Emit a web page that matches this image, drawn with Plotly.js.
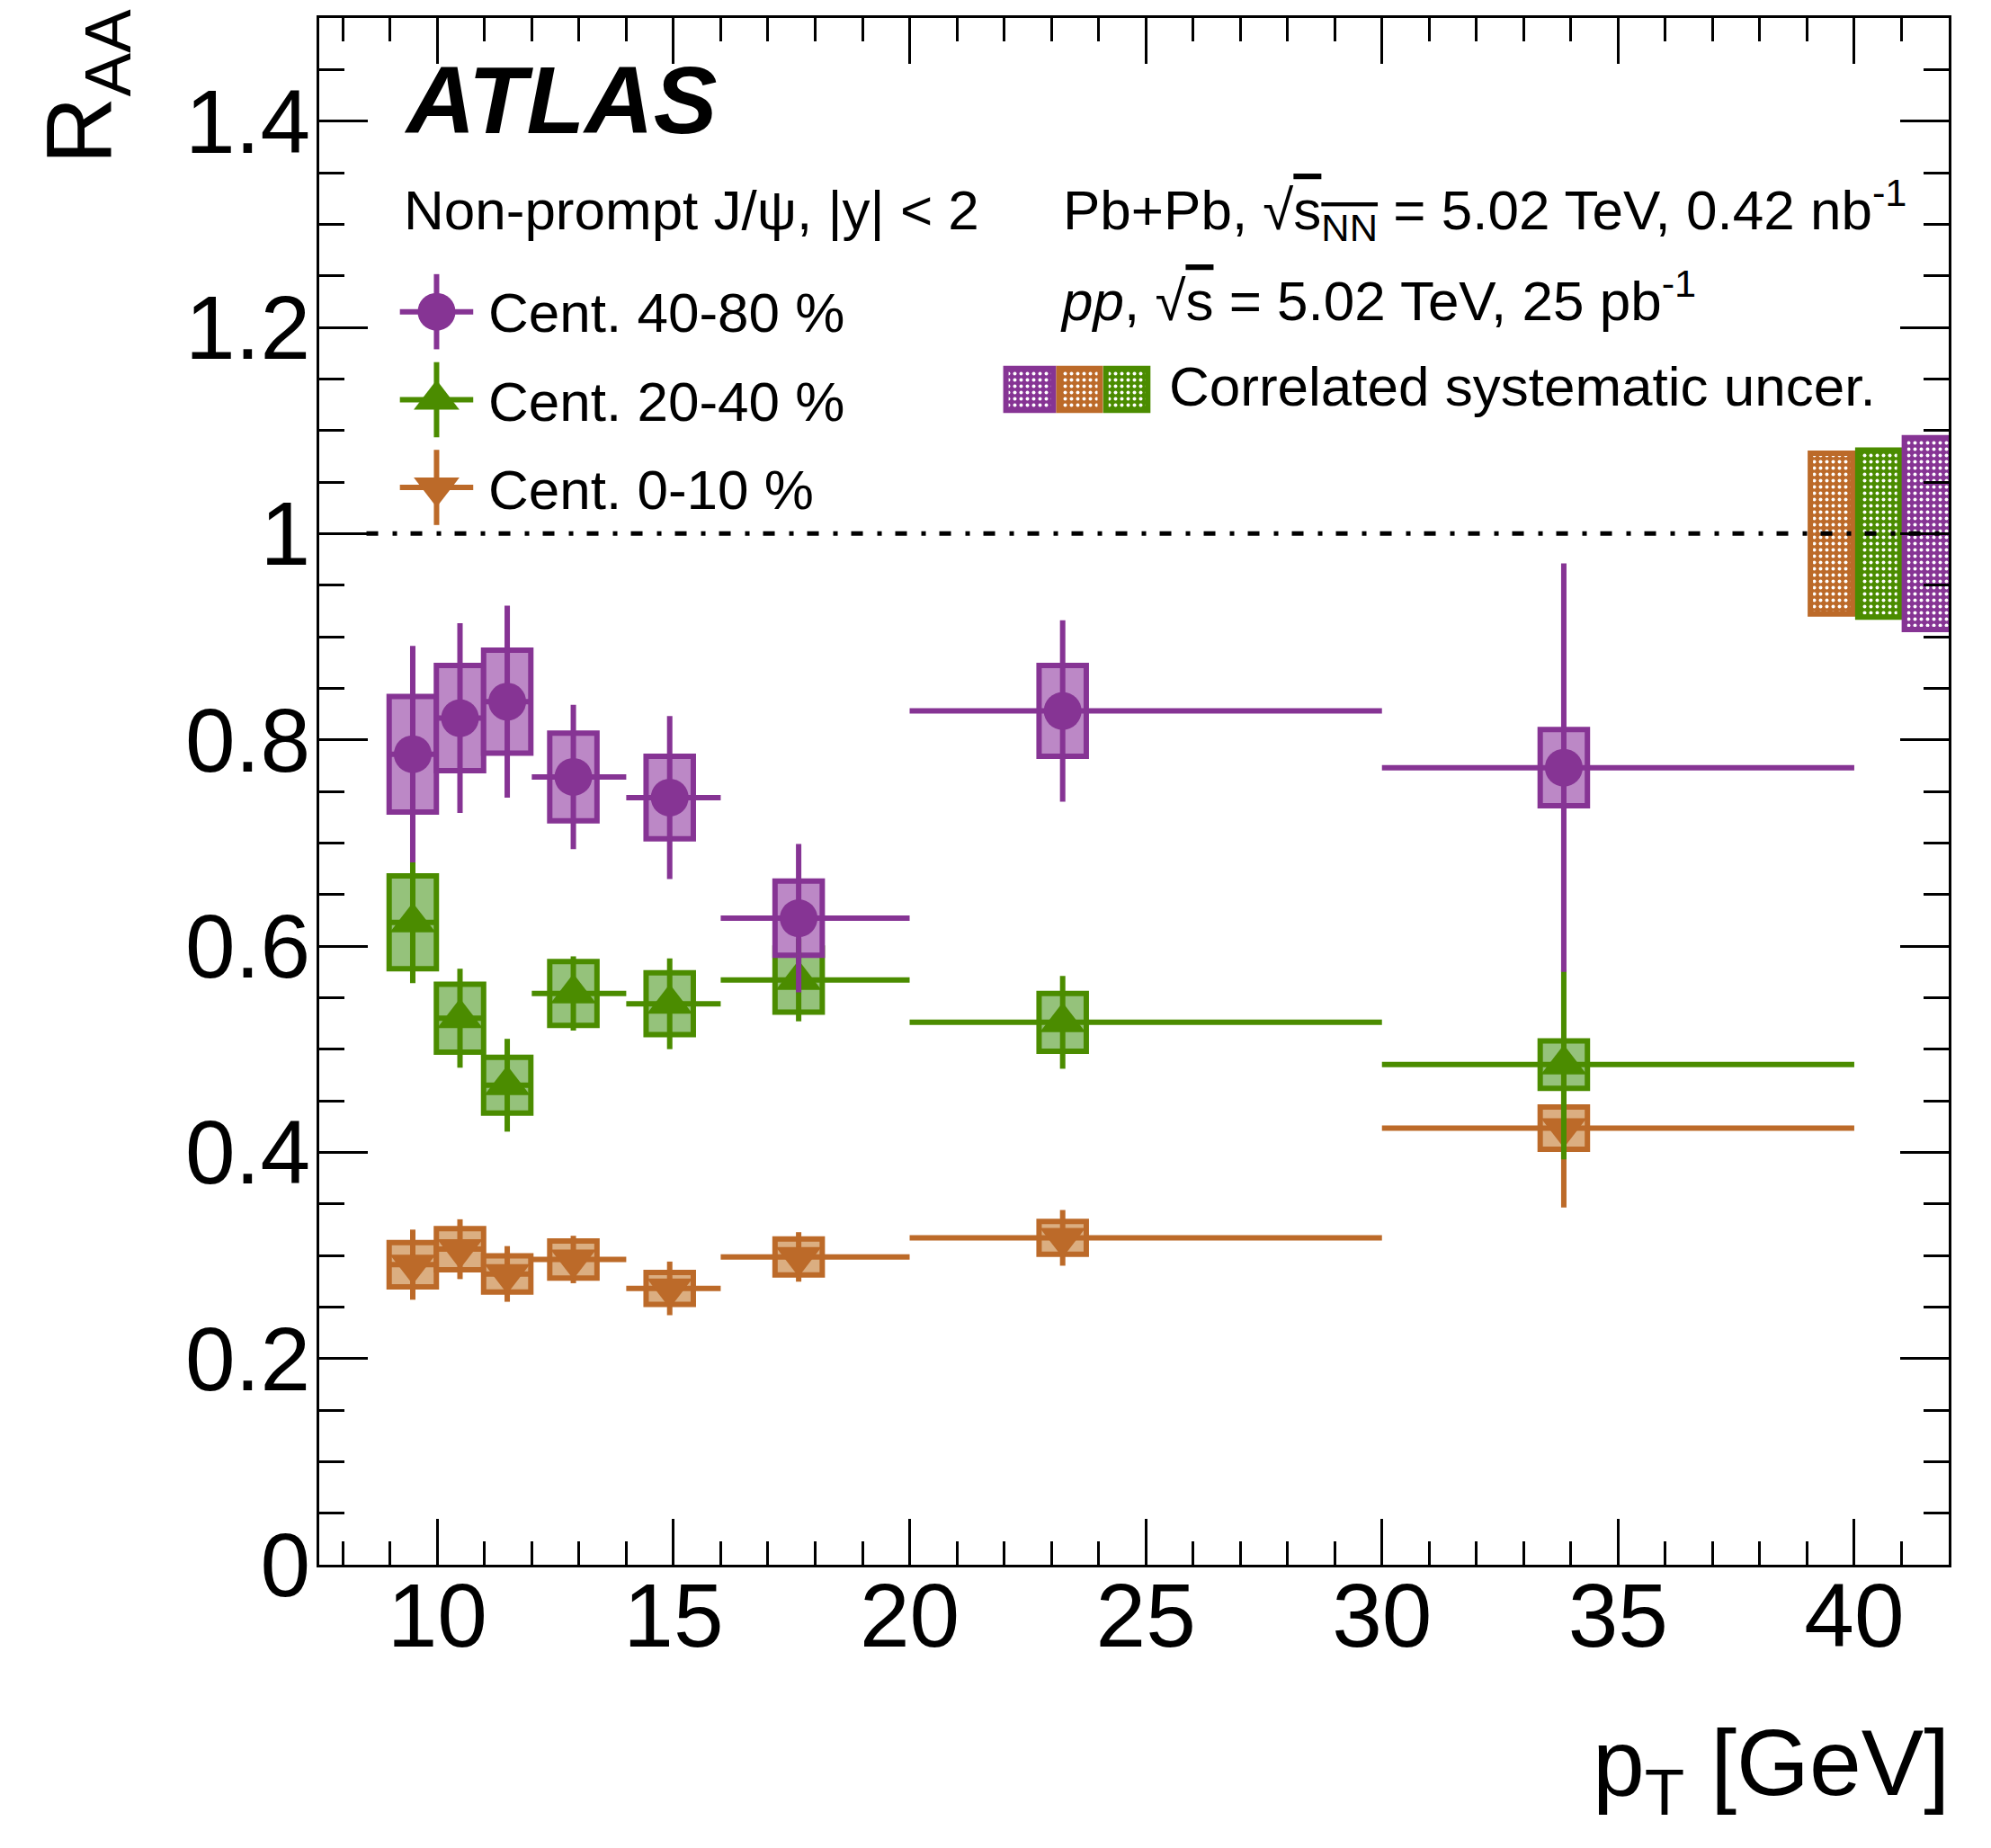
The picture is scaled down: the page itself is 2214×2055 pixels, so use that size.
<!DOCTYPE html>
<html>
<head>
<meta charset="utf-8">
<script src="https://cdn.plot.ly/plotly-3.0.1.min.js"></script>
<style>html,body{margin:0;padding:0;background:#fff;}</style>
</head>
<body>
<div id="chart" style="width:2214px;height:2055px;"></div>
<script>
// ---------------- data ----------------
const PT     = [9.48, 10.48, 11.48, 12.88, 14.92, 17.65, 23.24, 33.85];
const BIN_LO = [9, 10, 11, 12, 14, 16, 20, 30];
const BIN_HI = [10, 11, 12, 14, 16, 20, 30, 40];

const RAA_4080  = [0.786, 0.821, 0.837, 0.764, 0.744, 0.627, 0.828, 0.773];
const STAT_4080 = [0.105, 0.092, 0.093, 0.070, 0.079, 0.072, 0.088, 0.198];
const SYS_4080  = [0.056, 0.051, 0.050, 0.0425, 0.040, 0.036, 0.044, 0.037];

const RAA_2040  = [0.623, 0.530, 0.465, 0.554, 0.544, 0.567, 0.526, 0.485];
const STAT_2040 = [0.059, 0.048, 0.045, 0.036, 0.044, 0.040, 0.045, 0.092];
const SYS_2040  = [0.045, 0.033, 0.027, 0.031, 0.030, 0.031, 0.028, 0.023];

const RAA_010   = [0.291, 0.306, 0.282, 0.296, 0.268, 0.2985, 0.317, 0.4235];
const STAT_010  = [0.034, 0.029, 0.027, 0.023, 0.026, 0.024, 0.027, 0.077];
const SYS_010   = [0.0215, 0.020, 0.0175, 0.018, 0.0155, 0.0175, 0.016, 0.0205];

// correlated (global) uncertainties, order: 0-10, 20-40, 40-80
const CORR_LABELS = ['Cent. 0-10 %', 'Cent. 20-40 %', 'Cent. 40-80 %'];
const CORR_UNC    = [0.078, 0.081, 0.093];
const UNITY = 1;

const SERIES_LABELS = ['Cent. 40-80 %', 'Cent. 20-40 %', 'Cent. 0-10 %'];
const X_TICKS = [10, 15, 20, 25, 30, 35, 40];
const Y_TICKS = [0, 0.2, 0.4, 0.6, 0.8, 1, 1.2, 1.4];

// ---------------- style ----------------
const FONT = 'Liberation Sans, Arial, Helvetica, sans-serif';
const C = {
  purple: '#863494', purpleL: '#bc88c6',
  green:  '#4b8c00', greenL:  '#95c27b',
  orange: '#bc6a29', orangeL: '#dbae81'
};
const SYS_W = 1.0;          // box width in GeV
const LW = 6;               // line width
const CORR_X = [39.52, 40.52, 41.56];
const CORR_W = [0.90, 0.89, 1.0];
const CORR_COL = [C.orange, C.green, C.purple];
const TXT = 62;

function sysBars(vals, sys, dark, light) {
  return {
    type: 'bar', x: PT,
    y: sys.map(s => 2 * s),
    base: vals.map((v, i) => v - sys[i]),
    width: PT.map(() => SYS_W),
    marker: {color: light, line: {color: dark, width: LW}},
    hoverinfo: 'skip', showlegend: false
  };
}
function points(vals, stat, col, sym, size) {
  return {
    type: 'scatter', mode: 'markers', x: PT, y: vals,
    marker: {color: col, symbol: sym, size: size, line: {width: 0}},
    error_y: {type: 'data', array: stat, symmetric: true, color: col, thickness: LW, width: 0},
    error_x: {type: 'data', array: PT.map((p, i) => BIN_HI[i] - p),
              arrayminus: PT.map((p, i) => p - BIN_LO[i]), symmetric: false,
              color: col, thickness: LW, width: 0},
    cliponaxis: false, showlegend: false, hoverinfo: 'skip'
  };
}
function corrBar(i) {
  return {
    type: 'bar', x: [CORR_X[i]], y: [2 * CORR_UNC[i]], base: [UNITY - CORR_UNC[i]],
    width: [CORR_W[i]], name: CORR_LABELS[i],
    marker: {color: CORR_COL[i], line: {color: CORR_COL[i], width: LW},
             pattern: {shape: '.', bgcolor: CORR_COL[i], fgcolor: '#ffffff', size: 7, solidity: 0.25}},
    hoverinfo: 'skip', showlegend: false
  };
}

const traces = [
  sysBars(RAA_010,  SYS_010,  C.orange, C.orangeL),
  sysBars(RAA_2040, SYS_2040, C.green,  C.greenL),
  sysBars(RAA_4080, SYS_4080, C.purple, C.purpleL),
  corrBar(0), corrBar(1), corrBar(2),
  points(RAA_010,  STAT_010,  C.orange, 'triangle-down', 44),
  points(RAA_2040, STAT_2040, C.green,  'triangle-up',   44),
  points(RAA_4080, STAT_4080, C.purple, 'circle',        42)
];

// ---------------- legend (drawn on an overlay axis in paper-like units) ----------------
const LEG_X = 0.0720;
const LEG_Y = [0.8101, 0.7532, 0.6965];
const LEG_COL = [C.purple, C.green, C.orange];
const LEG_SYM = ['circle', 'triangle-up', 'triangle-down'];
const LEG_SIZE = [42, 44, 44];
for (let i = 0; i < 3; i++) {
  traces.push({
    type: 'scatter', mode: 'markers', x: [LEG_X], y: [LEG_Y[i]], xaxis: 'x2', yaxis: 'y2',
    marker: {color: LEG_COL[i], symbol: LEG_SYM[i], size: LEG_SIZE[i]},
    error_x: {type: 'constant', value: 0.0225, color: LEG_COL[i], thickness: LW, width: 0},
    error_y: {type: 'constant', value: 0.0243, color: LEG_COL[i], thickness: LW, width: 0},
    showlegend: false, hoverinfo: 'skip', cliponaxis: false
  });
}
// correlated-uncertainty swatches: purple, orange, green
const SW_X = [0.4360, 0.4666, 0.4956];
const SW_W = [0.0292, 0.0254, 0.0257];
const SW_COL = [C.purple, C.orange, C.green];
for (let i = 0; i < 3; i++) {
  traces.push({
    type: 'bar', x: [SW_X[i]], y: [0.0271], base: [0.7463], width: [SW_W[i]],
    xaxis: 'x2', yaxis: 'y2',
    marker: {color: SW_COL[i], line: {color: SW_COL[i], width: LW},
             pattern: {shape: '.', bgcolor: SW_COL[i], fgcolor: '#ffffff', size: 7, solidity: 0.25}},
    showlegend: false, hoverinfo: 'skip'
  });
}

function ann(text, x, y, size, extra) {
  return Object.assign({
    text: text, x: x, y: y, xref: 'paper', yref: 'paper',
    xanchor: 'left', yanchor: 'middle', showarrow: false,
    font: {family: FONT, size: size, color: '#000'}
  }, extra || {});
}

const annotations = [
  ann('<b><i>ATLAS</i></b>', 0.0508, 0.9471, 106),
  ann('Non-prompt J/ψ, |y| &lt; 2', 0.0508, 0.8758, TXT),
  ann(SERIES_LABELS[0], 0.1026, 0.8095, TXT),
  ann(SERIES_LABELS[1], 0.1026, 0.7521, TXT),
  ann(SERIES_LABELS[2], 0.1026, 0.6953, TXT),
  ann('Pb+Pb, √<span style="text-decoration:overline">s<sub>NN</sub></span> = 5.02 TeV, 0.42 nb<sup>-1</sup>', 0.4553, 0.8759, TXT),
  ann('<i>pp</i>, √<span style="text-decoration:overline">s</span> = 5.02 TeV, 25 pb<sup>-1</sup>', 0.4536, 0.8200, TXT),
  ann('Correlated systematic uncer.', 0.5204, 0.7622, TXT),
  ann('p<sub>T</sub> [GeV]', 1.0017, -0.1323, 104, {xanchor: 'right'}),
  ann('R<sub>AA</sub>', -0.1437, 0.9558, 104, {xanchor: 'center', textangle: -90})
];

const tickCommon = {
  ticks: 'inside', tickwidth: 3, tickcolor: '#000',
  showline: true, linewidth: 3, linecolor: '#000', mirror: 'allticks',
  showgrid: false, zeroline: false,
  tickfont: {family: FONT, size: 100, color: '#000'}
};

const layout = {
  width: 2214, height: 2055,
  margin: {l: 355, r: 47, t: 20, b: 315, pad: 0},
  paper_bgcolor: '#fff', plot_bgcolor: '#fff',
  font: {family: FONT, color: '#000'},
  barmode: 'overlay', showlegend: false,
  xaxis: Object.assign({}, tickCommon, {
    range: [7.5, 42], tickmode: 'array', tickvals: X_TICKS, ticktext: X_TICKS.map(String),
    ticklen: 51, ticklabelstandoff: -32,
    minor: {ticks: 'inside', ticklen: 26, tickwidth: 3, tickcolor: '#000', dtick: 1, tick0: 0, showgrid: false}
  }),
  yaxis: Object.assign({}, tickCommon, {
    range: [0, 1.5], tickmode: 'array', tickvals: Y_TICKS, ticktext: Y_TICKS.map(String),
    ticklen: 54, ticklabelstandoff: -13,
    minor: {ticks: 'inside', ticklen: 28, tickwidth: 3, tickcolor: '#000', dtick: 0.05, tick0: 0, showgrid: false}
  }),
  xaxis2: {overlaying: 'x', anchor: 'y2', range: [0, 1], visible: false, fixedrange: true},
  yaxis2: {overlaying: 'y', anchor: 'x2', range: [0, 1], visible: false, fixedrange: true},
  shapes: [{
    type: 'line', xref: 'x', yref: 'y', x0: 8.5, x1: 42, y0: UNITY, y1: UNITY, layer: 'above',
    line: {color: '#000', width: 5, dash: '13px,16px,5px,15px'}
  }],
  annotations: annotations
};

Plotly.newPlot('chart', traces, layout, {staticPlot: true, displayModeBar: false});
</script>
</body>
</html>
